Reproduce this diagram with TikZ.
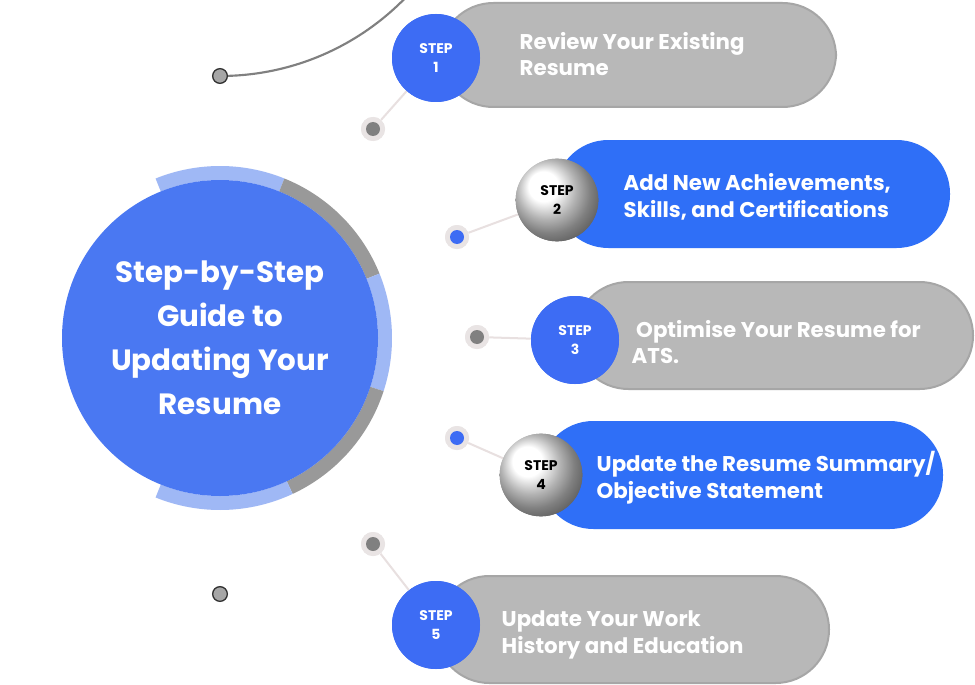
\documentclass[tikz,border=0pt]{standalone}
\usepackage{fontspec}
\setmainfont{Poppins}
\begin{document}
\begin{tikzpicture}[x=0.75pt,y=-0.75pt,
  pillg/.style={draw=gray!70,line width=1.5pt,fill=black!28,rounded corners=40pt},
  pillb/.style={fill=blueA,rounded corners=40pt},
  ptxt/.style={text=white,font=\fontsize{16}{20}\selectfont\bfseries,align=left,anchor=west},
  stepb/.style={circle,fill=blueC,minimum size=66pt,inner sep=0pt,text=white,font=\fontsize{10.5}{14}\selectfont\bfseries,align=center},
  stepw/.style={circle,ball color=white,shading=ball,minimum size=62pt,inner sep=0pt,text=black,font=\fontsize{10.5}{14}\selectfont\bfseries,align=center},
  mk/.style={circle,fill=pink!30!gray!25,minimum size=18pt,inner sep=0pt},
  conn/.style={draw=pink!40!gray!30,line width=1.5pt}]
\definecolor{blueA}{HTML}{2F6FF7}
\definecolor{blueC}{HTML}{3D6CF4}
\definecolor{blueB}{HTML}{4A78F2}
\definecolor{ringb}{HTML}{9FB8F5}
\definecolor{ringg}{HTML}{999999}
\fill[white] (0,0) rectangle (975,685);
\useasboundingbox (0,0) rectangle (975,685);
% pills
\draw[pillg] (440,3) rectangle (836,107);
\fill[pillb] (555,140) rectangle (950,248);
\draw[pillg] (575,282) rectangle (973,389);
\fill[pillb] (540,421) rectangle (943,529);
\draw[pillg] (436,576) rectangle (829,683);
% big arc
\draw[line width=1.6pt,gray] (220,76) arc[start angle=90,end angle=-90,radius=259];
\node[circle,fill=gray!70,draw=black!80,line width=1pt,minimum size=11pt,inner sep=0pt] (e1) at (220,76) {};
\node[circle,fill=gray!70,draw=black!80,line width=1pt,minimum size=11pt,inner sep=0pt] (e2) at (220,594) {};
% markers
\node[mk] (m1) at (373,129) {}; \node[mk] (m2) at (457,237) {};
\node[mk] (m3) at (477,337) {}; \node[mk] (m4) at (457,438) {};
\node[mk] (m5) at (373,544) {};
% step circles
\node[stepb] (s1) at (436,58) {STEP\\1};
\node[stepw] (s2) at (557,200) {STEP\\2};
\node[stepb] (s3) at (575,340) {STEP\\3};
\node[stepw] (s4) at (541,475) {STEP\\4};
\node[stepb] (s5) at (436,625) {STEP\\5};
\begin{scope}[on background layer/.style={}]
\end{scope}
\path[conn] (m1) -- (s1); \path[conn] (m2) -- (s2); \path[conn] (m3) -- (s3);
\path[conn] (m4) -- (s4); \path[conn] (m5) -- (s5);
\node[mk] at (m1) {}; \node[mk] at (m2) {}; \node[mk] at (m3) {}; \node[mk] at (m4) {}; \node[mk] at (m5) {};
\fill[gray] (m1) circle (7); \fill[blueC] (m2) circle (7); \fill[gray] (m3) circle (7);
\fill[blueC] (m4) circle (7); \fill[gray] (m5) circle (7);
\node[stepb] at (s1) {STEP\\1};
\node[stepw] at (s2) {STEP\\2};
\node[stepb] at (s3) {STEP\\3};
\node[stepw] at (s4) {STEP\\4};
\node[stepb] at (s5) {STEP\\5};
% texts
\node[ptxt] (t1) at (515,54) {Review Your Existing\\Resume};
\node[ptxt] (t2) at (619,197) {Add New Achievements,\\Skills, and Certifications};
\node[ptxt] (t3) at (627,342) {\ Optimise Your Resume for\\ATS.};
\node[ptxt] (t4) at (592,478) {Update the Resume Summary/\\Objective Statement};
\node[ptxt] (t5) at (497,635) {Update Your Work\\History and Education};
% center ring
\def\ringseg#1#2#3{\fill[#3] (220,338) ++(#1:172) arc[start angle=#1,end angle=#2,radius=172] -- ++(#2+180:14) arc[start angle=#2,end angle=#1,radius=158] -- cycle;}
\ringseg{-112}{-68}{ringb}
\ringseg{-68}{-22}{ringg}
\ringseg{-22}{18}{ringb}
\ringseg{18}{65}{ringg}
\ringseg{65}{112}{ringb}
\node[circle,fill=blueB,minimum size=237pt,inner sep=0pt,text=white,align=center,font=\fontsize{22}{33}\selectfont\bfseries] (c) at (220,338) {Step-by-Step\\Guide to\\Updating Your\\Resume};
\end{tikzpicture}
\end{document}
